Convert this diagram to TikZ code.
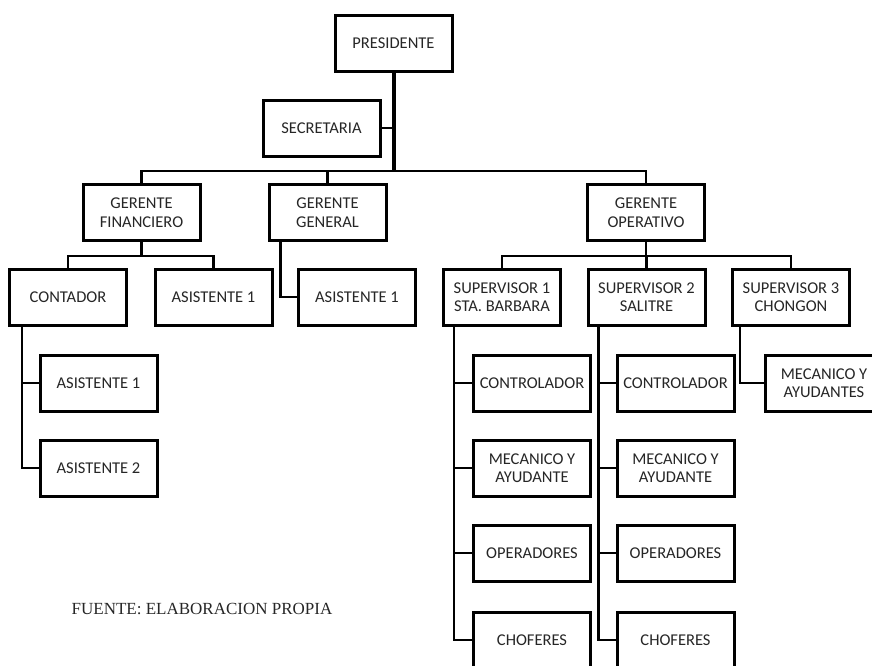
\documentclass[tikz,border=0pt]{standalone}
\usepackage{fontspec}
\setmainfont{Carlito}
\newfontfamily\fuentefont{Liberation Serif}
\begin{document}
\begin{tikzpicture}[x=1pt,y=-1pt,
    cargo/.style={draw, line width=3pt, fill=white, minimum width=117pt, minimum height=56pt,
        align=center, inner sep=2pt, text=black!85, font=\fontsize{16.5}{18.5}\selectfont},
    enlace/.style={line width=2.6pt, line cap=rect},
    troncal/.style={line width=4pt},
    barra/.style={line width=2pt, line cap=rect}]
    \clip (0,0) rectangle (872,665);

    % the top of the chart
    \node[cargo] (pres) at (393.5,43) {PRESIDENTE};
    \node[cargo] (sec) at (321.5,128) {SECRETARIA};
    \coordinate (bus) at (393.5,171);

    % the managers
    \node[cargo] (gf) at (141.5,212.5) {GERENTE\\FINANCIERO};
    \node[cargo] (gg) at (327.5,212.5) {GERENTE\\GENERAL};
    \node[cargo] (go) at (646,212.5) {GERENTE\\OPERATIVO};

    % under the managers
    \node[cargo] (cont) at (68,297) {CONTADOR};
    \node[cargo] (af1) at (213.5,297) {ASISTENTE 1};
    \node[cargo] (ag1) at (357,297) {ASISTENTE 1};
    \node[cargo] (s1) at (502,297) {SUPERVISOR 1\\STA. BARBARA};
    \node[cargo] (s2) at (646.5,297) {SUPERVISOR 2\\SALITRE};
    \node[cargo] (s3) at (791,297) {SUPERVISOR 3\\CHONGON};
    \coordinate (fbus) at (141.5,256);
    \coordinate (obus) at (646,256);

    % under the contador
    \node[cargo] (ca1) at (98.5,383) {ASISTENTE 1};
    \node[cargo] (ca2) at (98.5,468) {ASISTENTE 2};

    % under the supervisors
    \node[cargo] (c1) at (532,383) {CONTROLADOR};
    \node[cargo] (m1) at (532,468) {MECANICO Y\\AYUDANTE};
    \node[cargo] (o1) at (532,553) {OPERADORES};
    \node[cargo] (ch1) at (532,640) {CHOFERES};
    %
    \node[cargo] (c2) at (675.5,383) {CONTROLADOR};
    \node[cargo] (m2) at (675.5,468) {MECANICO Y\\AYUDANTE};
    \node[cargo] (o2) at (675.5,553) {OPERADORES};
    \node[cargo] (ch2) at (675.5,640) {CHOFERES};
    %
    \node[cargo] (m3) at (824,383) {MECANICO Y\\AYUDANTES};

    % the source
    \node[font=\fuentefont\fontsize{17}{19}\selectfont, text=black!85] (fuente) at (202,609) {FUENTE: ELABORACION PROPIA};

    % draw the lines
    \draw[troncal] (pres) -- (bus);
    \draw[enlace] (sec) -- (sec -| bus);
    \draw[barra] (gf |- bus) -- (go |- bus);
    \draw[enlace] (gf) -- (gf |- bus);
    \draw[enlace] (gg) -- (gg |- bus);
    \draw[enlace] (go) -- (go |- bus);
    %
    \draw[enlace] (gf) -- (fbus);
    \draw[enlace] (cont.north) |- (fbus) -| (af1.north);
    \draw[enlace] ([xshift=13pt]gg.south west) |- (ag1.west);
    \draw[enlace] (go) -- (obus);
    \draw[enlace] (s1.north) |- (obus) -| (s3.north);
    \draw[enlace] (s2) -- (s2 |- obus);
    %
    \draw[enlace] ([xshift=14pt]cont.south west) |- (ca1.west);
    \draw[enlace] ([xshift=14pt]cont.south west) |- (ca2.west);
    %
    \foreach \n in {c1,m1,o1,ch1}
        \draw[enlace] ([xshift=12pt]s1.south west) |- (\n.west);
    \foreach \n in {c2,m2,o2,ch2}
        \draw[enlace] ([xshift=12pt]s2.south west) |- (\n.west);
    \draw[enlace] ([xshift=9pt]s3.south west) |- (m3.west);
\end{tikzpicture}
\end{document}
